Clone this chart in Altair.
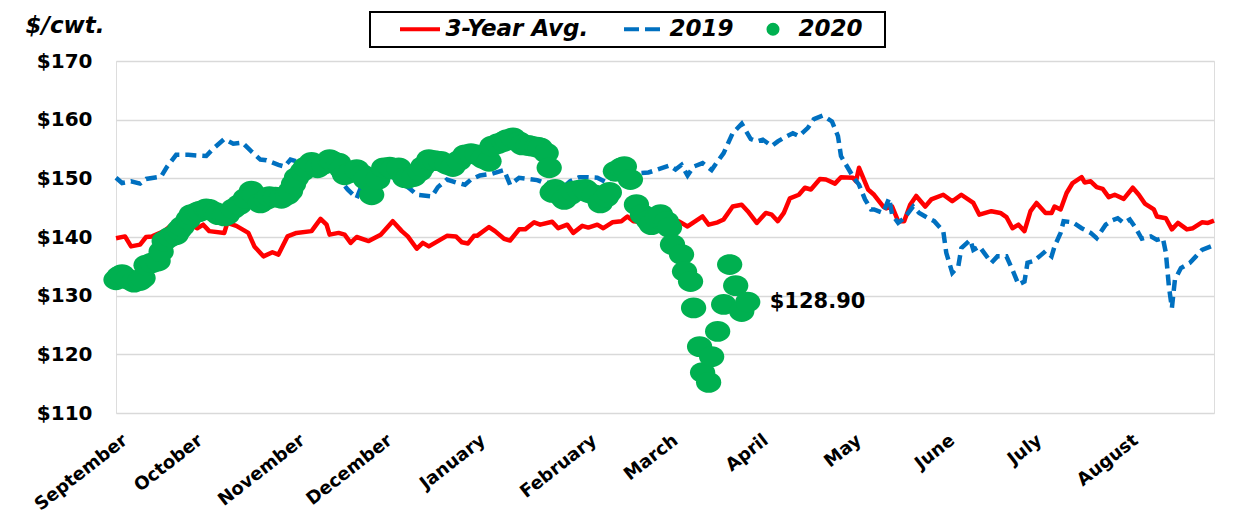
import altair as alt
import pandas as pd

FONT = "DejaVu Sans"

# ---- data (x = day of the Sept-Aug marketing year) ----
avg_day = [0, 3, 5, 8, 10, 12, 16, 20, 24, 27, 29, 31, 36, 37, 40, 44, 46, 49, 52, 54,
           57, 60, 65, 68, 70, 71, 74, 76, 78, 80, 84, 88, 92, 95, 97, 100, 102, 104, 107, 110,
           113, 115, 117, 119, 120, 124, 126, 129, 131, 134, 136, 139, 141, 145, 147, 150, 152, 155, 157, 160,
           162, 165, 168, 170, 172, 176, 178, 181, 185, 187, 190, 192, 195, 197, 200, 202, 205, 208, 210, 213,
           216, 218, 220, 222, 224, 227, 229, 231, 234, 236, 239, 241, 245, 246, 247, 250, 252, 255, 256, 258,
           260, 262, 264, 266, 269, 271, 275, 278, 281, 285, 287, 291, 294, 296, 298, 300, 302, 304, 306, 309,
           311, 312, 314, 316, 318, 321, 322, 324, 326, 328, 330, 332, 335, 338, 340, 342, 345, 346, 349, 351,
           353, 356, 358, 361, 363, 365]
avg_val = [139.8, 140.1, 138.4, 138.7, 140.0, 140.1, 141.0, 142.7, 142.3, 141.5, 142.1, 141.0, 140.7, 142.4, 141.9, 140.7, 138.4, 136.7, 137.4, 137.0,
           140.1, 140.7, 141.0, 143.1, 142.1, 140.4, 140.7, 140.4, 139.0, 140.0, 139.3, 140.4, 142.7, 141.0, 140.1, 138.0, 139.0, 138.4, 139.3, 140.2,
           140.1, 139.1, 138.9, 140.2, 140.2, 141.7, 141.0, 139.7, 139.4, 141.3, 141.3, 142.5, 142.1, 142.6, 141.5, 142.1, 140.7, 141.9, 141.6, 142.1,
           141.5, 142.5, 142.7, 143.5, 142.7, 142.5, 142.3, 143.0, 142.7, 142.7, 141.8, 142.5, 143.5, 142.1, 142.5, 143.0, 145.2, 145.5, 144.4, 142.4,
           144.1, 143.8, 142.7, 144.1, 146.6, 147.2, 148.4, 148.1, 149.9, 149.8, 149.1, 150.2, 150.1, 149.5, 151.8, 148.1, 147.2, 145.2, 144.9, 145.2,
           142.7, 142.7, 145.5, 147.0, 145.2, 146.4, 147.2, 146.1, 147.2, 145.8, 143.8, 144.4, 144.1, 143.4, 141.5, 142.1, 141.0, 144.4, 145.8, 144.1,
           144.1, 145.2, 144.7, 147.5, 149.2, 150.2, 149.3, 149.5, 148.5, 148.2, 146.8, 147.2, 146.5, 148.4, 147.2, 145.7, 144.7, 143.5, 143.2, 141.3,
           142.4, 141.3, 141.5, 142.5, 142.4, 142.8]

y2019_day = [0, 2, 5, 8, 10, 15, 17, 20, 24, 27, 30, 32, 36, 39, 42, 45, 48, 50, 54, 56,
             58, 60, 65, 70, 74, 77, 80, 83, 88, 93, 98, 100, 105, 107, 110, 113, 116, 118, 121, 125,
             129, 131, 134, 137, 140, 142, 145, 149, 151, 154, 157, 160, 163, 166, 170, 174, 177, 180, 184, 186,
             188, 190, 192, 195, 198, 200, 202, 205, 208, 211, 213, 215, 218, 220, 222, 225, 227, 230, 232, 235,
             238, 240, 241, 242, 245, 247, 249, 251, 252, 255, 257, 258, 260, 262, 265, 267, 270, 272, 275, 276,
             278, 280, 281, 284, 285, 287, 291, 293, 296, 298, 300, 302, 303, 305, 307, 309, 311, 312, 314, 315,
             318, 321, 324, 326, 329, 331, 333, 335, 337, 339, 341, 344, 346, 348, 349, 350, 351, 352, 354, 357,
             359, 361, 364, 365]
y2019_val = [150.1, 149.2, 149.5, 149.1, 149.9, 150.3, 152.0, 154.0, 154.0, 153.9, 153.8, 154.9, 156.7, 155.9, 156.1, 154.6, 153.2, 153.1, 152.3, 152.0,
             153.2, 152.9, 152.5, 151.5, 150.0, 148.1, 146.6, 150.5, 151.0, 150.0, 148.1, 147.2, 146.9, 148.5, 149.8, 149.3, 148.9, 149.8, 150.5, 150.8,
             151.4, 148.9, 150.1, 149.9, 149.7, 149.3, 149.2, 148.6, 149.5, 150.2, 150.2, 150.1, 149.3, 150.6, 151.0, 150.9, 151.0, 151.5, 152.2, 151.5,
             152.3, 150.5, 152.0, 152.6, 151.4, 152.9, 154.3, 157.7, 159.3, 156.7, 156.3, 156.6, 155.5, 156.3, 156.9, 157.7, 157.2, 158.6, 160.1, 160.7,
             159.7, 157.2, 153.8, 152.9, 150.3, 148.9, 146.4, 144.7, 144.7, 144.1, 146.6, 143.8, 142.4, 143.2, 145.2, 144.1, 143.2, 142.7, 141.0, 137.3,
             133.9, 135.0, 138.1, 139.5, 137.8, 138.4, 135.6, 136.7, 136.7, 134.4, 131.9, 132.4, 135.6, 135.9, 136.7, 137.6, 136.7, 138.4, 140.7, 142.7,
             142.5, 141.5, 140.7, 139.8, 142.1, 142.8, 143.2, 142.4, 143.0, 141.5, 139.7, 140.1, 139.5, 139.8, 137.3, 131.6, 127.9, 132.7, 134.7, 135.6,
             136.7, 137.8, 138.4, 138.9]

y2020_day = [0, 1, 2, 4, 6, 8, 9, 10, 12, 14, 15, 16, 18, 20, 21, 22, 24, 25, 27, 28,
             30, 31, 33, 34, 36, 37, 39, 41, 43, 45, 46, 48, 50, 51, 53, 55, 57, 58, 59, 60,
             62, 63, 65, 67, 69, 71, 72, 74, 75, 76, 78, 80, 82, 83, 85, 87, 89, 91, 92, 94,
             96, 97, 99, 101, 102, 104, 106, 108, 110, 112, 114, 116, 118, 120, 122, 124, 125, 127, 129, 130,
             132, 134, 135, 137, 138, 140, 141, 143, 144, 145, 146, 148, 149, 151, 152, 154, 156, 157, 159, 161,
             163, 164, 166, 168, 169, 171, 173, 175, 177, 178, 180, 181, 183, 184,
             185, 188, 189, 191, 192, 194, 195, 197, 198, 200, 202, 204, 206, 208, 210]
y2020_val = [132.7, 133.3, 133.6, 132.8, 132.3, 132.6, 133.0, 135.2, 135.6, 135.9, 137.5, 139.3, 140.0, 140.4, 141.2, 141.8, 143.0, 143.8, 144.2, 144.4,
             144.8, 144.7, 144.2, 143.8, 143.6, 143.8, 144.8, 145.5, 146.6, 147.8, 147.2, 145.8, 146.4, 146.9, 146.8, 146.6, 147.2, 147.8, 149.0, 150.1,
             151.2, 151.9, 152.7, 151.8, 152.4, 153.2, 152.9, 152.6, 151.6, 150.6, 151.0, 151.5, 150.6, 149.8, 147.2, 149.8, 151.8, 151.9, 151.6, 151.8,
             150.1, 150.0, 150.3, 151.2, 152.0, 153.2, 153.0, 152.9, 152.4, 152.0, 153.0, 154.0, 154.2, 154.0, 153.4, 152.9, 155.5, 155.9, 156.3, 156.6,
             156.9, 156.2, 155.7, 155.6, 155.5, 155.3, 155.2, 154.3, 151.8, 147.6, 148.1, 147.0, 146.4, 147.2, 147.8, 148.0, 148.1, 147.6, 147.2, 145.8,
             146.8, 147.6, 151.2, 151.8, 152.0, 149.8, 145.5, 143.8, 142.8, 142.1, 143.2, 143.8, 142.6, 141.6,
             138.7, 137.0, 134.1, 132.4, 127.9, 121.3, 116.9, 115.2, 119.6, 123.9, 128.5, 135.3, 131.7, 127.3, 128.9]

series_names = ["3-Year Avg.", "2019", "2020"]
series_colors = ["#FF0000", "#0070C0", "#00B050"]

month_names = ["September", "October", "November", "December", "January", "February",
               "March", "April", "May", "June", "July", "August"]
month_ticks = [4, 29, 63, 92, 123, 160, 187, 217, 248, 279, 308, 340]
y_ticks = [110, 120, 130, 140, 150, 160, 170]

# ---- long table ----
frames = []
for name, days, vals in [(series_names[0], avg_day, avg_val),
                         (series_names[1], y2019_day, y2019_val),
                         (series_names[2], y2020_day, y2020_val)]:
    frames.append(pd.DataFrame({"day": days, "value": vals, "series": name}))
df = pd.concat(frames, ignore_index=True)

label_expr = " : ".join(f"datum.value == {d} ? '{m}'" for d, m in zip(month_ticks, month_names)) + " : ''"

x_axis = alt.Axis(values=month_ticks, labelExpr=label_expr, grid=False, ticks=False, domain=False,
                  title=None, labelAngle=322, labelAlign="right", labelBaseline="alphabetic",
                  labelFont=FONT, labelFontSize=18, labelFontWeight="bold", labelColor="black",
                  labelPadding=29, labelOverlap=False, labelBound=False, labelFlush=False)

y_axis = alt.Axis(values=y_ticks, labelExpr="'$' + datum.value", grid=True, gridColor="#d9d9d9",
                  gridWidth=1.5, ticks=False, domain=False, labelPadding=24,
                  labelFont=FONT, labelFontSize=20, labelFontWeight="bold", labelColor="black",
                  title="$/cwt.", titleAngle=0, titleX=-91, titleY=-29, titleAlign="left",
                  titleBaseline="alphabetic", titleFont=FONT, titleFontSize=23,
                  titleFontStyle="italic", titleFontWeight="bold", titleColor="black")

g = series_names[2]
b = series_names[1]
legend = alt.Legend(
    title=" ", titleOrient="left", titlePadding=33, titleFontSize=20,
    orient="none", legendX=254, legendY=-49, direction="horizontal",
    symbolType=alt.ExprRef(expr=f"datum.value === '{g}' ? 'circle' : 'stroke'"),
    symbolSize=alt.ExprRef(expr=f"datum.value === '{g}' ? 170 : 1600"),
    symbolStrokeWidth=alt.ExprRef(expr=f"datum.value === '{g}' ? 0 : 4"),
    symbolDash=alt.ExprRef(expr=f"datum.value === '{b}' ? [15, 6] : [1, 0]"),
    symbolFillColor=alt.ExprRef(expr=f"datum.value === '{g}' ? '{series_colors[2]}' : 'transparent'"),
    symbolStrokeColor=alt.ExprRef(expr=f"datum.value === '{b}' ? '{series_colors[1]}' : '{series_colors[0]}'"),
    symbolOpacity=1,
    labelExpr=f"datum.label === '{g}' ? datum.label + '  \u200b' : datum.label",
    labelFont=FONT, labelFontSize=23, labelFontStyle="italic", labelFontWeight="bold",
    labelColor="black", labelOffset=14, columnPadding=27, padding=5.5, strokeColor="black",
)

color = alt.Color("series:N", scale=alt.Scale(domain=series_names, range=series_colors), legend=legend)

base = alt.Chart(df).encode(
    x=alt.X("day:Q", scale=alt.Scale(domain=[0, 365], nice=False, zero=False), axis=x_axis),
    y=alt.Y("value:Q", scale=alt.Scale(domain=[110, 170], nice=False, zero=False), axis=y_axis),
    color=color,
)

ellipse = "M-1,0A1,0.82,0,1,0,1,0A1,0.82,0,1,0,-1,0Z"

red = base.transform_filter(alt.datum.series == series_names[0]).mark_line(strokeWidth=4.5, strokeJoin="round")
blue = base.transform_filter(alt.datum.series == series_names[1]).mark_line(strokeWidth=4.5, strokeDash=[11, 6])
green = base.transform_filter(alt.datum.series == series_names[2]).mark_point(
    shape=ellipse, size=640, filled=True, opacity=1, strokeWidth=0)
note = base.transform_filter(
    (alt.datum.series == series_names[2]) & (alt.datum.day == y2020_day[-1])
).mark_text(align="left", baseline="middle", dx=22, font=FONT, fontSize=21, fontWeight="bold").encode(
    text=alt.Text("value:Q", format="$.2f"), color=alt.value("black"))

chart = alt.layer(red, blue, green, note).properties(
    width=1098, height=352,
    autosize=alt.AutoSizeParams(type="none"),
    padding={"left": 108, "top": 53, "right": 26, "bottom": 100},
).configure_view(stroke=None).configure(background="white").configure_legend(strokeWidth=2)

chart.save("out.html", embed_options={"renderer": "svg", "actions": False})
